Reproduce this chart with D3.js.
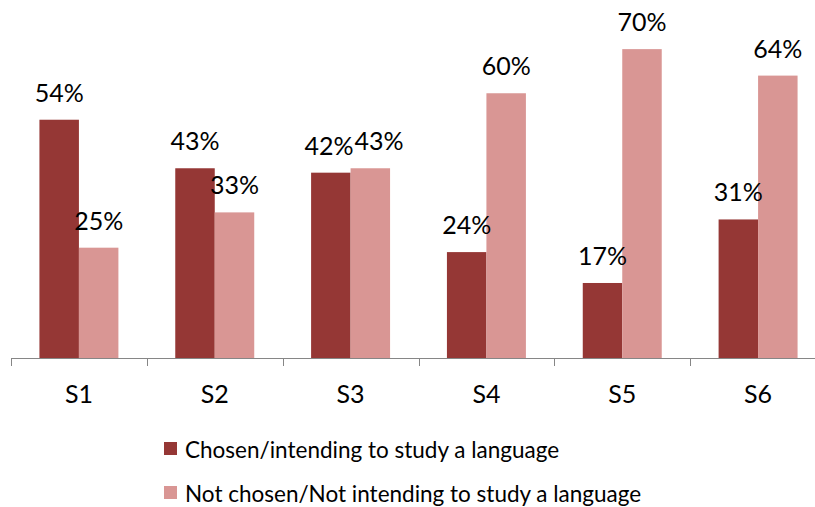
<!DOCTYPE html>
<html>
<head>
<meta charset="utf-8">
<script src="https://cdn.jsdelivr.net/npm/d3@7"></script>
<style>
  html, body { margin: 0; padding: 0; background: #fff; }
  svg { display: block; }
  text { font-family: Lato, "Open Sans", sans-serif; fill: #000; }
</style>
</head>
<body>
<svg id="chart" width="815" height="507"></svg>
<script>
const categories = ["S1", "S2", "S3", "S4", "S5", "S6"];
const seriesNames = ["Chosen/intending to study a language", "Not chosen/Not intending to study a language"];
const chosen = [0.54, 0.43, 0.42, 0.24, 0.17, 0.314];
const notChosen = [0.25, 0.33, 0.43, 0.60, 0.70, 0.64];
const colors = ["#953735", "#D99694"];

const svg = d3.select("#chart");
const W = 815, H = 507;
const baseY = 358;

const x0 = d3.scaleBand().domain(categories).range([11, 826]).padding(0);
const x1 = d3.scaleBand().domain([0, 1]).range([0, x0.bandwidth()]).paddingInner(0).paddingOuter(0.72);
const y = d3.scaleLinear().domain([0, 0.8]).range([baseY, 5]);

const data = categories.map((c, i) => ({ cat: c, values: [chosen[i], notChosen[i]] }));

// bars
const groups = svg.append("g").selectAll("g").data(data).join("g")
  .attr("transform", d => `translate(${x0(d.cat)},0)`);

groups.selectAll("rect").data(d => d.values.map((v, k) => ({ v, k })))
  .join("rect")
  .attr("x", d => x1(d.k))
  .attr("width", x1.bandwidth())
  .attr("y", d => y(d.v))
  .attr("height", d => baseY - y(d.v))
  .attr("fill", d => colors[d.k]);

// value labels
const fmt = d3.format(".0%");
const labelG = svg.append("g");
data.forEach(d => {
  const texts = d.values.map((v, k) => labelG.append("text")
    .attr("x", x0(d.cat) + x1(k) + x1.bandwidth() / 2)
    .attr("y", y(v) - 18)
    .attr("text-anchor", "middle")
    .attr("font-size", 25)
    .text(fmt(v)));
  // resolve overlap between the two labels of a group
  const b0 = texts[0].node().getBBox(), b1 = texts[1].node().getBBox();
  const vOverlap = !(b0.y + b0.height < b1.y || b1.y + b1.height < b0.y);
  const overlap = b0.x + b0.width - b1.x;
  if (vOverlap && overlap > 0) {
    texts[0].attr("x", +texts[0].attr("x") - overlap * 0.2);
    texts[1].attr("x", +texts[1].attr("x") + overlap * 0.8 + 1);
  }
});

// x axis
const axisG = svg.append("g").attr("transform", `translate(0,${baseY})`);
axisG.append("line").attr("x1", 11).attr("x2", W).attr("y1", 0.5).attr("y2", 0.5)
  .attr("stroke", "#868686").attr("stroke-width", 1);
const boundaries = categories.map(c => x0(c)).concat([x0.range()[1]]);
axisG.selectAll("line.tick").data(boundaries).join("line")
  .attr("class", "tick")
  .attr("x1", d => Math.round(d) + 0.5).attr("x2", d => Math.round(d) + 0.5)
  .attr("y1", 0).attr("y2", 8)
  .attr("stroke", "#868686").attr("stroke-width", 1);
axisG.selectAll("text").data(categories).join("text")
  .attr("x", d => x0(d) + x0.bandwidth() / 2)
  .attr("y", 44.5)
  .attr("text-anchor", "middle")
  .attr("font-size", 25)
  .text(d => d);

// legend
const legend = svg.append("g");
seriesNames.forEach((name, k) => {
  const ly = 442 + k * 44;
  legend.append("rect").attr("x", 164).attr("y", ly).attr("width", 13).attr("height", 13)
    .attr("fill", colors[k]);
  legend.append("text").attr("x", 185).attr("y", ly + 15.5)
    .attr("font-size", 22.5)
    .text(name);
});
</script>
</body>
</html>
